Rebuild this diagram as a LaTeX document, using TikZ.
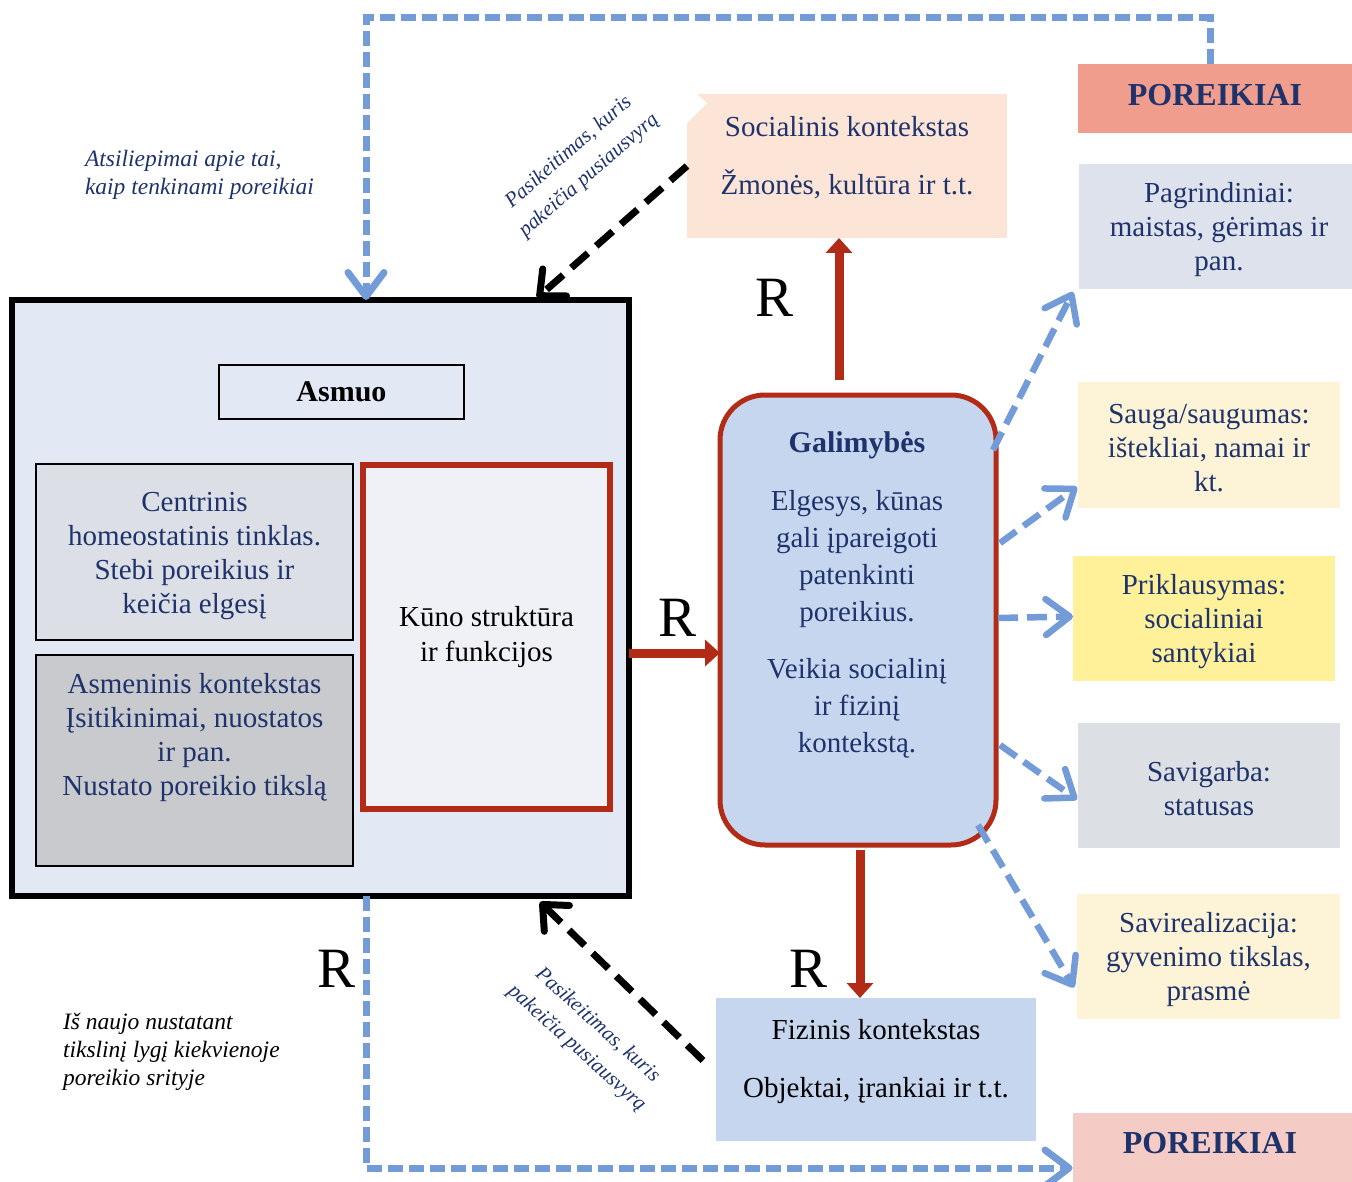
\documentclass[tikz,border=0pt]{standalone}
\usepackage{fontspec}
\setmainfont{Liberation Serif}
\usetikzlibrary{arrows.meta}

\definecolor{navy}{RGB}{30,50,108}
\definecolor{brick}{RGB}{178,43,23}
\definecolor{dashblue}{RGB}{114,155,216}
\definecolor{asmfill}{RGB}{226,233,245}
\definecolor{cenfill}{RGB}{220,223,229}
\definecolor{ctxfill}{RGB}{201,202,206}
\definecolor{kunofill}{RGB}{239,241,247}
\definecolor{galfill}{RGB}{199,214,239}
\definecolor{socfill}{RGB}{252,228,214}
\definecolor{fizfill}{RGB}{199,214,239}
\definecolor{needhi}{RGB}{241,157,141}
\definecolor{needlo}{RGB}{245,204,197}
\definecolor{basefill}{RGB}{222,226,236}
\definecolor{creamfill}{RGB}{253,243,214}
\definecolor{yellowfill}{RGB}{255,240,154}
\definecolor{greyfill}{RGB}{220,223,228}

\newcommand\mainsz{\fontsize{29}{34}\selectfont}

\tikzset{
  base/.style={inner sep=0pt, outer sep=0pt, align=center},
  bodytext/.style={base, text=navy, font=\mainsz},
  needbox/.style={base, text=navy, font=\mainsz, minimum width=#1},
  needhead/.style={base, text=navy, font=\fontsize{32}{36}\selectfont\bfseries},
  bigR/.style={base, font=\fontsize{57}{57}\selectfont},
  note/.style={base, anchor=west, align=left, font=\fontsize{23.5}{28}\selectfont\itshape},
  turned/.style={base, text=navy, font=\fontsize{21}{31}\selectfont\itshape},
  redarrow/.style={draw=brick, line width=9pt, -{Triangle[length=15pt,width=26pt]}},
  bluearrow/.style={draw=dashblue, line width=6.5pt, dash pattern=on 20pt off 9pt,
    -{Straight Barb[length=24pt,width=36pt,round]}},
  loopline/.style={draw=dashblue, line width=7pt, dash pattern=on 15pt off 6pt,
    -{Straight Barb[length=24pt,width=36pt,round]}},
  blackarrow/.style={draw=black, line width=7pt, dash pattern=on 22pt off 11pt,
    -{Straight Barb[length=20pt,width=36pt,round]}},
}

\begin{document}
\begin{tikzpicture}[x=1pt,y=-1pt]
\useasboundingbox (0,0) rectangle (1352,1182);

% ---------- person block ----------
\node[base, draw=black, line width=6pt, fill=asmfill,
      minimum width=617pt, minimum height=596pt] (asmuo) at (320.5,598) {};
\node[base, draw=black, line width=1.2pt, fill=asmfill,
      minimum width=245pt, minimum height=54pt,
      font=\fontsize{30}{34}\selectfont\bfseries] (asmlbl) at (341.5,392) {Asmuo};
\node[base, draw=black, line width=2pt, fill=cenfill,
      minimum width=317pt, minimum height=176pt] (cen) at (194.5,552) {};
\node[bodytext] (centxt) at (194.5,556)
      {Centrinis\\homeostatinis tinklas.\\Stebi poreikius ir\\keičia elgesį};
\node[base, draw=black, line width=2pt, fill=ctxfill,
      minimum width=317pt, minimum height=211pt] (ctx) at (194.5,760.5) {};
\node[bodytext] (ctxtxt) at (194.5,738)
      {Asmeninis kontekstas\\Įsitikinimai, nuostatos\\ir pan.\\Nustato poreikio tikslą};
\node[base, draw=brick, line width=6pt, fill=kunofill, font=\fontsize{29}{35}\selectfont,
      minimum width=247pt, minimum height=344pt] (kuno) at (486.5,637)
      {Kūno struktūra\\ir funkcijos};

% ---------- abilities ----------
\node[base, draw=brick, line width=5pt, fill=galfill, rounded corners=45pt,
      minimum width=276pt, minimum height=450pt] (gal) at (858,620) {};
\node[base, text=navy, font=\fontsize{29}{37}\selectfont] (galtxt) at (857,595)
      {{\fontsize{30}{37}\selectfont\bfseries Galimybės}\\[21pt]
       Elgesys, kūnas\\gali įpareigoti\\patenkinti\\poreikius.\\[20pt]
       Veikia socialinį\\ir fizinį\\kontekstą.};

% ---------- contexts ----------
\node[base, fill=socfill, minimum width=320pt, minimum height=144pt] (soc) at (847,166) {};
\fill[white] (soc.north west) -- ++(10,0) -- ++(10,9) -- ++(-20,20) -- cycle;
\node[bodytext] (soctxt) at (847,158) {Socialinis kontekstas\\[24pt]Žmonės, kultūra ir t.t.};

\node[base, fill=fizfill, minimum width=320pt, minimum height=143pt] (fiz) at (876,1069.5) {};
\node[base, font=\mainsz] (fiztxt) at (876,1062) {Fizinis kontekstas\\[24pt]Objektai, įrankiai ir t.t.};

% ---------- needs column ----------
\node[base, fill=needhi, minimum width=274pt, minimum height=69pt] (p1) at (1215,98.5) {};
\node[needhead] (p1txt) at (1215,95) {POREIKIAI};
\node[needbox=273pt, fill=basefill, minimum height=125pt] (pagr) at (1215.5,226.5) {};
\node[bodytext] (pagrtxt) at (1219,230) {Pagrindiniai:\\maistas, gėrimas ir\\pan.};
\node[needbox=262pt, fill=creamfill, minimum height=126pt] (sauga) at (1209,445) {};
\node[bodytext] (saugatxt) at (1209,448) {Sauga/saugumas:\\ištekliai, namai ir\\kt.};
\node[needbox=262pt, fill=yellowfill, minimum height=125pt] (prikl) at (1204,618.5) {};
\node[bodytext] (prikltxt) at (1204,622) {Priklausymas:\\socialiniai\\santykiai};
\node[needbox=262pt, fill=greyfill, minimum height=125pt] (savig) at (1209,785.5) {};
\node[bodytext] (savigtxt) at (1209,789) {Savigarba:\\statusas};
\node[needbox=263pt, fill=creamfill, minimum height=125pt] (savir) at (1208.5,956.5) {};
\node[bodytext] (savirtxt) at (1208.5,960) {Savirealizacija:\\gyvenimo tikslas,\\prasmė};
\node[base, fill=needlo, minimum width=279pt, minimum height=70pt] (p2) at (1212,1148) {};
\node[needhead] (p2txt) at (1210,1143) {POREIKIAI};

% ---------- notes and labels ----------
\node[note, text=navy] (fb) at (85,175) {Atsiliepimai apie tai,\\kaip tenkinami poreikiai};
\node[note, text=black] (reset) at (63,1052) {Iš naujo nustatant\\tikslinį lygį kiekvienoje\\poreikio srityje};
\node[turned, rotate=41] (chg1) at (579,164) {Pasikeitimas, kuris\\pakeičia pusiausvyrą};
\node[turned, rotate=-42] (chg2) at (587,1037) {Pasikeitimas, kuris\\pakeičia pusiausvyrą};

\node[bigR] (r1) at (775,298) {R};
\node[bigR] (r2) at (678,618) {R};
\node[bigR] (r3) at (808,969) {R};
\node[bigR] (r4) at (337,969) {R};

% ---------- feedback loops ----------
\coordinate (topR) at (1210,18);
\coordinate (topL) at (366,18);
\coordinate (botL) at (366,1168);
\draw[loopline] (p1.north -| topR) -- (topR) -- (topL) -- (topL |- asmuo.north);
\draw[loopline] (asmuo.south -| botL) -- (botL) -- (p2.west |- botL);

% ---------- red links ----------
\draw[redarrow] ([yshift=-55pt]asmuo.east) -- ([yshift=-55pt]asmuo.east -| gal.west);
\draw[redarrow] ([xshift=-19pt,yshift=15pt]gal.north) -- ([xshift=-19pt]gal.north |- soc.south);
\draw[redarrow] ([xshift=2pt,yshift=-5pt]gal.south) -- ([xshift=2pt]gal.south |- fiz.north);

% ---------- black dashed links ----------
\draw[blackarrow] (soc.west) -- ([xshift=-92pt,yshift=2pt]asmuo.north east);
\draw[blackarrow] ([xshift=-13pt,yshift=9pt]fiz.west) -- ([xshift=-89pt,yshift=-6pt]asmuo.south east);

% ---------- abilities to needs ----------
\draw[bluearrow] ([xshift=-3pt,yshift=170pt]gal.east) -- ([xshift=-6pt,yshift=-3pt]pagr.south west);
\draw[bluearrow] ([xshift=4pt,yshift=77pt]gal.east) -- ([xshift=-1pt,yshift=21pt]sauga.south west);
\draw[bluearrow] ([xshift=2pt,yshift=2pt]gal.east) -- ([yshift=2pt]prikl.west);
\draw[bluearrow] ([xshift=4pt,yshift=-125pt]gal.east) -- ([xshift=-1pt,yshift=-14pt]savig.west);
\draw[bluearrow] ([xshift=-18pt,yshift=20pt]gal.south east) -- ([xshift=-3pt,yshift=-31pt]savir.west);
\end{tikzpicture}
\end{document}
